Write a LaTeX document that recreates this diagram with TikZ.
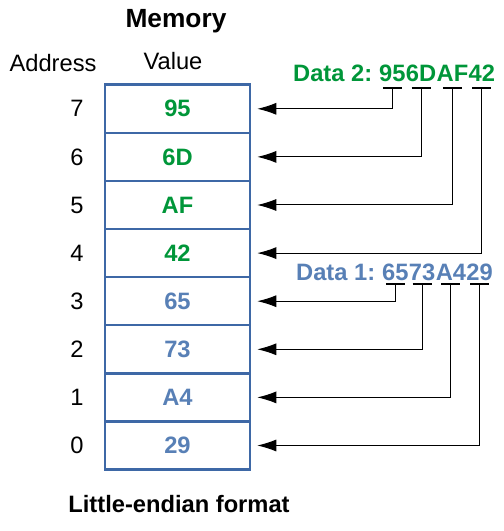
\documentclass[tikz,border=0pt]{standalone}
\usepackage{fontspec}
\setmainfont{Liberation Sans}
\usetikzlibrary{positioning,arrows.meta}
\definecolor{datagreen}{RGB}{0,150,57}
\definecolor{datablue}{RGB}{88,128,182}
\definecolor{cellblue}{RGB}{62,104,166}

\begin{document}
\begin{tikzpicture}[x=1pt,y=1pt,every path/.style={>={Latex[length=19pt,width=12pt]}},
	every node/.style={font=\fontsize{23.7}{28}\selectfont},
	cell/.style={draw=cellblue,line width=2.5pt,rectangle,minimum width=145pt,minimum height=48.1pt,font=\fontsize{23.7}{28}\selectfont\bfseries},
	byte/.style={inner sep=0pt,font=\fontsize{23.7}{28}\selectfont\bfseries},
	link/.style={->,line width=1pt,shorten >=6pt}]
		\useasboundingbox (0,0) rectangle (504,531);

		% draw headers
		\node (mem) at (176,503) [anchor=base,font=\fontsize{26.3}{30}\selectfont\bfseries] {Memory};
		\node (addr) at (53,459) [anchor=base] {Address};
		\node (val) at (173,461) [anchor=base] {Value};

		% draw memory cells and addresses
		\foreach \a/\v/\c in {0/29/datablue,1/A4/datablue,2/73/datablue,3/65/datablue,4/42/datagreen,5/AF/datagreen,6/6D/datagreen,7/95/datagreen} {
			\node (v\a) at (177.5,85.5+48.1*\a) [cell,text=\c] {\v};
			\node (a\a) at (77,85.5+48.1*\a) {\a};
		}

		% draw data 2
		\node (d2) at (293,449) [byte,text=datagreen,anchor=base west] {Data 2:};
		\node (d2b3) [byte,text=datagreen,base right=6.6pt of d2] {95};
		\node (d2b2) [byte,text=datagreen,base right=0pt of d2b3] {6D};
		\node (d2b1) [byte,text=datagreen,base right=0pt of d2b2] {AF};
		\node (d2b0) [byte,text=datagreen,base right=0pt of d2b1] {42};

		% draw data 1
		\node (d1) at (296,250) [byte,text=datablue,anchor=base west] {Data 1:};
		\node (d1b3) [byte,text=datablue,base right=6.6pt of d1] {65};
		\node (d1b2) [byte,text=datablue,base right=0pt of d1b3] {73};
		\node (d1b1) [byte,text=datablue,base right=0pt of d1b2] {A4};
		\node (d1b0) [byte,text=datablue,base right=0pt of d1b1] {29};

		% draw underlines and lines from bytes to cells
		\foreach \b/\r in {3/7,2/6,1/5,0/4} {
			\draw[line width=1.3pt] ([xshift=-9.5pt,yshift=-6pt]d2b\b.base) -- ([xshift=9.5pt,yshift=-6pt]d2b\b.base);
			\draw[link] ([yshift=-6pt]d2b\b.base) |- (v\r.east);
		}
		\foreach \b/\r in {3/3,2/2,1/1,0/0} {
			\draw[line width=1.3pt] ([xshift=-9.5pt,yshift=-3pt]d1b\b.base) -- ([xshift=9.5pt,yshift=-3pt]d1b\b.base);
			\draw[link] ([yshift=-3pt]d1b\b.base) |- (v\r.east);
		}

		% draw caption
		\node (fmt) at (179,19) [anchor=base] {\bfseries Little-endian format};
	\end{tikzpicture}
\end{document}
